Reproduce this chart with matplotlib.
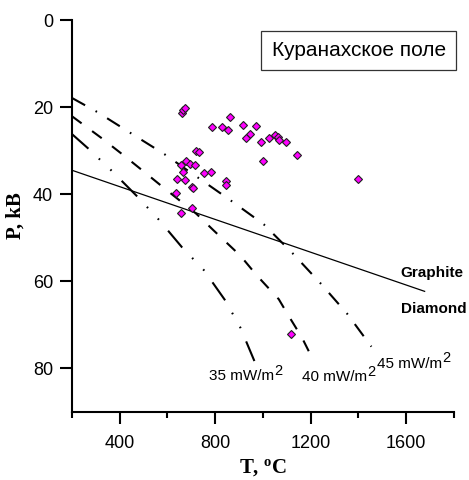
import matplotlib
matplotlib.use('Agg')
import matplotlib.pyplot as plt
from matplotlib.ticker import MultipleLocator

plt.rcParams['font.family'] = 'Liberation Sans'
plt.rcParams['lines.scale_dashes'] = False

# P-T estimates for the xenoliths
temp = [659, 667, 675, 788, 829, 854, 863, 915, 945, 930, 972, 992, 1024,
        1049, 1061, 1066, 1098, 1143, 1001, 1400, 721, 732, 657, 679, 696,
        715, 665, 640, 674, 752, 783, 704, 707, 846, 846, 637, 703, 657, 1119]
press = [21.4, 20.6, 20.2, 24.5, 24.5, 25.2, 22.3, 24.2, 26.2, 27.1, 24.4,
         27.9, 27.1, 26.5, 26.9, 27.6, 28.1, 31.1, 32.3, 36.6, 30.1, 30.3,
         33.4, 32.4, 33.1, 33.2, 34.8, 36.4, 36.8, 35.2, 34.9, 38.3, 38.6,
         37.0, 37.8, 39.8, 43.2, 44.3, 72.2]

# conductive geotherms
t35 = [200, 268, 364, 473, 563, 661, 752, 842, 905, 964]
p35 = [26.2, 29.5, 34.5, 40.5, 45.8, 52.2, 57.4, 64.4, 70.6, 78.3]
t40 = [200, 326, 410, 494, 577, 721, 793, 905, 975, 1066, 1107, 1163, 1205]
p40 = [22.1, 27.2, 30.8, 34.5, 38.2, 44.5, 48.3, 54.1, 58.7, 64.1, 67.9, 72.9, 77.5]
t45 = [200, 305, 444, 587, 864, 1003, 1123, 1240, 1352, 1454]
p45 = [17.9, 21.1, 25.9, 30.8, 41.4, 46.9, 53.5, 60.4, 67.4, 75.0]

# graphite / diamond boundary
gd_t = [200, 1677]
gd_p = [34.5, 62.3]

fig = plt.figure(figsize=(4.69, 4.8), dpi=100)
ax = fig.add_axes([0.1535, 0.1417, 0.8145, 0.8166])

ax.plot(gd_t, gd_p, color='black', lw=0.9)
ax.plot(t35, p35, color='black', lw=1.5,
        linestyle=(0, (15.8, 10.3, 1.2, 10.3, 1.2, 10.3)))
ax.plot(t40, p40, color='black', lw=1.5, linestyle=(0, (8.6, 9.4)))
ax.plot(t45, p45, color='black', lw=1.5, linestyle=(0, (10.8, 8.6, 1.2, 8.6)))

ax.plot(temp, press, 'D', ms=4.1, mfc='#ff00ff', mec='#202020', mew=0.8,
        zorder=5)

ax.text(1575, 58.2, 'Graphite', fontsize=11, fontweight='bold', va='center')
ax.text(1578, 66.3, 'Diamond', fontsize=11, fontweight='bold', va='center')


def flux_label(x, y, value):
    # heat-flow label with a raised, nearly full-size "2"
    t = ax.text(x, y, f'{value} mW/m', fontsize=11)
    ax.annotate('2', xy=(1.0, 0.4), xycoords=t, fontsize=10.5, va='bottom')


flux_label(773, 82.7, 35)
flux_label(1163, 83.0, 40)
flux_label(1478, 79.8, 45)

ax.text(1401, 7.0, 'Куранахское поле', fontsize=15, ha='center', va='center',
        bbox=dict(boxstyle='square,pad=0.5', fc='white', ec='#333333', lw=0.9))

ax.set_xlim(200, 1800)
ax.set_ylim(90, 0)
ax.xaxis.set_minor_locator(MultipleLocator(200))
ax.set_xticks([400, 800, 1200, 1600])
ax.set_yticks([0, 20, 40, 60, 80])

for side in ['top', 'right']:
    ax.spines[side].set_visible(False)
for side in ['left', 'bottom']:
    ax.spines[side].set_linewidth(1.5)

ax.tick_params(which='major', length=8.5, width=1.5, labelsize=13, pad=5)
ax.tick_params(axis='x', which='major', pad=8)
ax.tick_params(which='minor', length=4, width=1.5)
ax.tick_params(axis='y', which='minor', left=False)

ax.set_xlabel(r'T, $\mathregular{^o}$C', family='Liberation Serif',
              fontweight='bold', fontsize=15, labelpad=4)
ax.set_ylabel('P, kB', family='Liberation Serif', fontweight='bold',
              fontsize=15, labelpad=5)

fig.savefig('out.png', dpi=100)
